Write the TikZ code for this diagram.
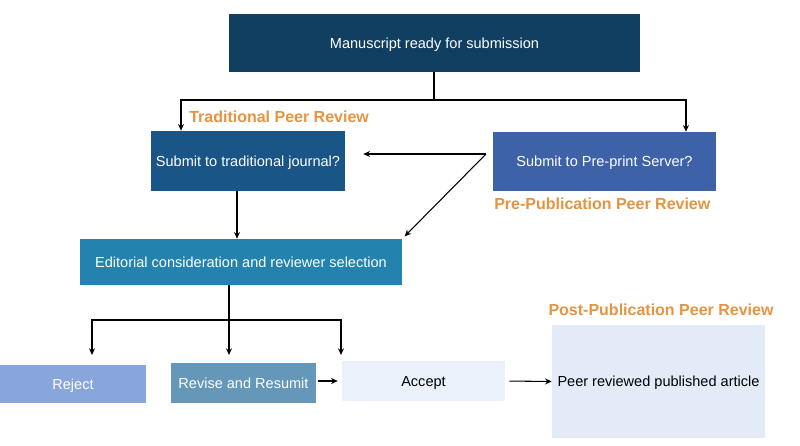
\documentclass[tikz,border=0pt]{standalone}
\usepackage{fontspec}
\setmainfont{Liberation Sans}
\usetikzlibrary{arrows.meta,calc}
\definecolor{cTop}{HTML}{103F61}
\definecolor{cTrad}{HTML}{1A5587}
\definecolor{cPre}{HTML}{3E62A8}
\definecolor{cEdit}{HTML}{2383AE}
\definecolor{cRej}{HTML}{88A6DB}
\definecolor{cRev}{HTML}{6497B8}
\definecolor{cAcc}{HTML}{EBF1FB}
\definecolor{cPeer}{HTML}{E3EBF9}
\definecolor{cOrange}{HTML}{E69440}
\tikzset{
  box/.style={draw=none, inner sep=0pt, align=center, text height=7.9pt, text depth=0pt, font=\fontsize{10.9}{13}\selectfont},
  dark/.style={box, text=white},
  light/.style={box, text=black},
  lbl/.style={inner sep=0pt, text=cOrange, font=\fontsize{12}{14}\selectfont\bfseries},
  arr/.style={draw=black, line width=0.8pt, -{Stealth[length=5pt,width=4.5pt]}},
  ln/.style={draw=black, line width=0.8pt}
}
\begin{document}
\begin{tikzpicture}[x=0.75pt,y=-0.75pt]
\useasboundingbox (0,0) rectangle (800,446);
\fill[white] (0,0) rectangle (800,446);
\node[dark, fill=cTop, minimum width=308.25pt, minimum height=43.5pt] (top) at (434.5,43) {Manuscript ready for submission};
\node[dark, fill=cTrad, minimum width=145.5pt, minimum height=45pt] (trad) at (248,161) {Submit to traditional journal?};
\node[dark, fill=cPre, minimum width=167.25pt, minimum height=44.25pt] (pre) at (604.5,161.5) {Submit to Pre-print Server?};
\node[dark, fill=cEdit, minimum width=241.5pt, minimum height=34.5pt] (edit) at (241,262) {Editorial consideration and reviewer selection};
\node[dark, fill=cRej, minimum width=109.5pt, minimum height=28.5pt] (rej) at (73,384) {Reject};
\node[dark, fill=cRev, minimum width=108.75pt, minimum height=30pt] (rev) at (243.5,383) {Revise and Resumit};
\node[light, fill=cAcc, minimum width=122.25pt, minimum height=30pt] (acc) at (423.5,381) {Accept};
\node[light, fill=cPeer, minimum width=159.75pt, minimum height=84.75pt] (peer) at (658.5,381.5) {Peer reviewed published article};

\node[lbl, anchor=west] (ltrad) at (189,117) {Traditional Peer Review};
\node[lbl, anchor=west] (lpre) at (494,204) {Pre-Publication Peer Review};
\node[lbl] (lpost) at (661,310) {Post-Publication Peer Review};

% top split
\coordinate (j1) at (434,100);
\draw[ln] (top.south -| j1) -- (j1);
\draw[arr] (j1) -| ([xshift=-50.25pt]trad.north);
\draw[arr] (j1) -| ([xshift=61.1pt]pre.north);
% preprint back to traditional and editorial
\coordinate (v) at (486,154);
\draw[arr, shorten >=13.5pt] (v) -- (v -| trad.east);
\draw[arr, shorten >=2.5pt] (v) -- (edit.north east);
% traditional to editorial
\draw[arr] ([xshift=-8.25pt]trad.south) -- ([xshift=-8.25pt]trad.south |- edit.north);
% editorial split
\coordinate (j2) at (229,320);
\coordinate (t1) at (92,355);
\coordinate (t2) at (229,355);
\coordinate (t3) at (341,355);
\draw[ln] (edit.south -| j2) -- (j2);
\draw[arr] (j2) -- (t2);
\draw[arr] (j2) -| (t1);
\draw[arr] (j2) -| (t3);
% bottom row
\draw[arr, shorten <=1.5pt, shorten >=3pt] (rev.east |- acc.west) -- (acc.west);
\draw[arr, shorten <=3pt] (acc.east) -- (peer.west);
\end{tikzpicture}
\end{document}
